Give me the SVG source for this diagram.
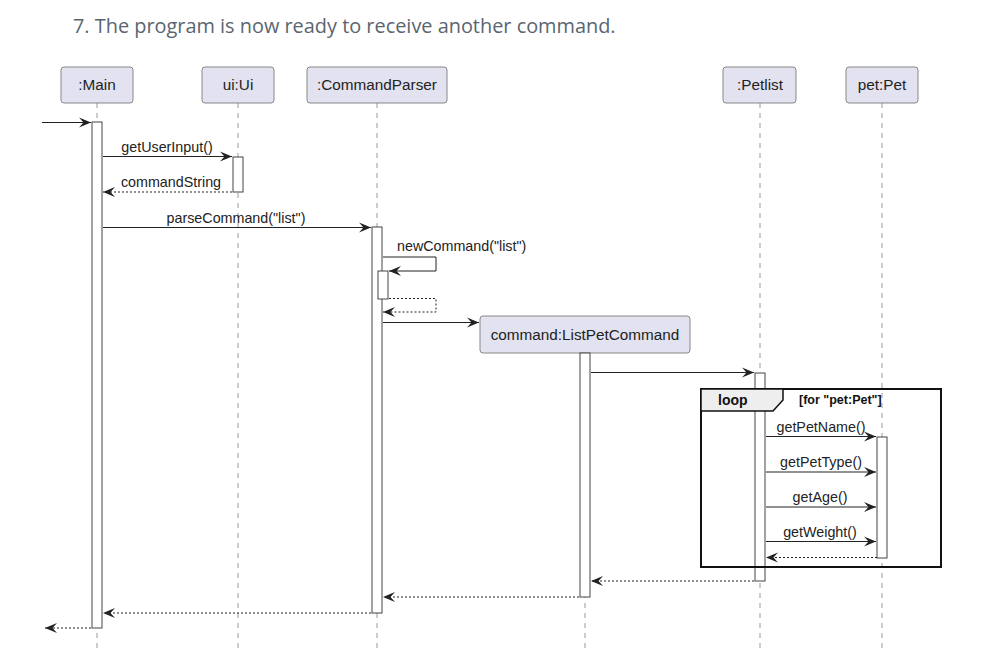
<svg xmlns="http://www.w3.org/2000/svg" width="984" height="667" viewBox="0 0 984 667">
<defs>
<style>
.hdr{font-family:"Open Sans","Noto Sans",sans-serif;font-size:19.9px;fill:#5a6570}
.pbox{fill:#E2E2F0;stroke:#888;stroke-width:1}
.ptxt{font-family:"Liberation Sans",Arial,sans-serif;font-size:15.3px;fill:#222;text-anchor:middle}
.life{stroke:#999;stroke-width:1;stroke-dasharray:5,5;fill:none}
.act{fill:#fff;stroke:#444;stroke-width:1}
.msg{stroke:#222;stroke-width:1;fill:none;marker-end:url(#ah)}
.ret{stroke:#222;stroke-width:1;fill:none;stroke-dasharray:2,2;marker-end:url(#ah)}
.mtxt{font-family:"Liberation Sans",Arial,sans-serif;font-size:14.3px;fill:#222;text-anchor:middle}
.ltxt{font-family:"Liberation Sans",Arial,sans-serif;font-size:14.3px;fill:#222}
.frame{fill:none;stroke:#111;stroke-width:2}
.tab{fill:#EEEEEE;stroke:#111;stroke-width:1.5}
.loopt{font-family:"Liberation Sans",Arial,sans-serif;font-size:14px;font-weight:bold;fill:#111}
.guard{font-family:"Liberation Sans",Arial,sans-serif;font-size:12.5px;font-weight:bold;fill:#111}
</style>
<marker id="ah" markerUnits="userSpaceOnUse" markerWidth="13" markerHeight="11" refX="12" refY="5.5" orient="auto">
<path d="M0,0.5 L12,5.5 L0,10.5 L4.5,5.5 Z" fill="#222"/>
</marker>
</defs>
<rect width="984" height="667" fill="#fff"/>
<text class="hdr" x="73" y="33">7. The program is now ready to receive another command.</text>

<g id="lifelines">
<line class="life" x1="97" y1="103" x2="97" y2="650"/>
<line class="life" x1="238" y1="103" x2="238" y2="650"/>
<line class="life" x1="377" y1="103" x2="377" y2="650"/>
<line class="life" x1="585" y1="353" x2="585" y2="650"/>
<line class="life" x1="760" y1="103" x2="760" y2="650"/>
<line class="life" x1="882" y1="103" x2="882" y2="650"/>
</g>

<g id="main">
<rect class="pbox" x="61" y="67" width="72" height="36" rx="3"/>
<text class="ptxt" x="97" y="90">:Main</text>
<rect class="act" x="92" y="122" width="10" height="506"/>
</g>
<g id="ui">
<rect class="pbox" x="202" y="67" width="72" height="36" rx="3"/>
<text class="ptxt" x="238" y="90">ui:Ui</text>
<rect class="act" x="233" y="157" width="10" height="35"/>
</g>
<g id="commandParser">
<rect class="pbox" x="307" y="67" width="140" height="36" rx="3"/>
<text class="ptxt" x="377" y="90">:CommandParser</text>
<rect class="act" x="372" y="227" width="10" height="386"/>
<rect class="act" x="378" y="271" width="10" height="28"/>
</g>
<g id="listPetCommand">
<rect class="pbox" x="480" y="316" width="210" height="37" rx="3"/>
<text class="ptxt" x="585" y="340">command:ListPetCommand</text>
<rect class="act" x="580" y="353" width="10" height="244"/>
</g>
<g id="petlist">
<rect class="pbox" x="723" y="67" width="73" height="36" rx="3"/>
<text class="ptxt" x="760" y="90">:Petlist</text>
<rect class="act" x="755" y="373" width="10" height="208"/>
</g>
<g id="pet">
<rect class="pbox" x="846" y="67" width="72" height="36" rx="3"/>
<text class="ptxt" x="882" y="90">pet:Pet</text>
<rect class="act" x="877" y="437" width="10" height="121"/>
</g>

<g id="loop">
<rect class="frame" x="701" y="389" width="240" height="178"/>
<path class="tab" d="M701,389 L783,389 L783,400 L773,411 L701,411 Z"/>
<text class="loopt" x="718" y="405">loop</text>
<text class="guard" x="799" y="404">[for "pet:Pet"]</text>
</g>

<g id="connectors">
<line class="msg" x1="42" y1="122.5" x2="91" y2="122.5"/>
<line class="msg" x1="103" y1="156.5" x2="232" y2="156.5"/>
<text class="mtxt" x="167" y="151.5">getUserInput()</text>
<line class="ret" x1="232" y1="192" x2="103" y2="192"/>
<text class="mtxt" x="171" y="186.5">commandString</text>
<line class="msg" x1="103" y1="227.5" x2="371" y2="227.5"/>
<text class="mtxt" x="236" y="222.5">parseCommand("list")</text>
<polyline class="msg" points="383,257 436,257 436,271 389,271"/>
<text class="ltxt" x="397" y="251">newCommand("list")</text>
<polyline class="ret" points="389,298.5 436,298.5 436,312 383,312"/>
<line class="msg" x1="383" y1="322.5" x2="479" y2="322.5"/>
<line class="msg" x1="591" y1="372.5" x2="754" y2="372.5"/>
<line class="msg" x1="766" y1="436.5" x2="876" y2="436.5"/>
<text class="mtxt" x="821" y="431.5">getPetName()</text>
<line class="msg" x1="766" y1="472" x2="876" y2="472"/>
<text class="mtxt" x="821" y="467">getPetType()</text>
<line class="msg" x1="766" y1="507" x2="876" y2="507"/>
<text class="mtxt" x="820" y="502">getAge()</text>
<line class="msg" x1="766" y1="541.5" x2="876" y2="541.5"/>
<text class="mtxt" x="820" y="536.5">getWeight()</text>
<line class="ret" x1="877" y1="557.5" x2="766" y2="557.5"/>
<line class="ret" x1="754" y1="581" x2="591" y2="581"/>
<line class="ret" x1="579" y1="597" x2="383" y2="597"/>
<line class="ret" x1="371" y1="613" x2="103" y2="613"/>
<line class="ret" x1="91" y1="628" x2="45" y2="628"/>
</g>
</svg>
